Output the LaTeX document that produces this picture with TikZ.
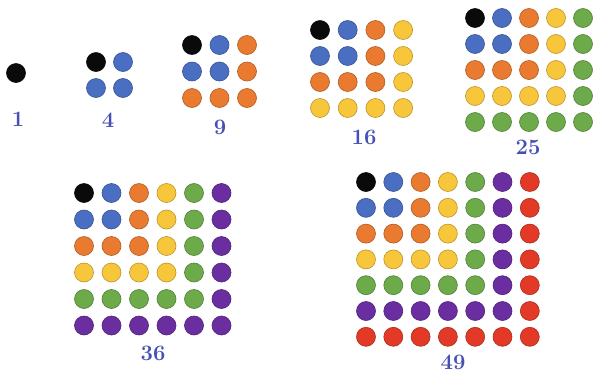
\documentclass[tikz,border=0pt]{standalone}
\begin{document}
\definecolor{c0}{HTML}{0A0A0A}
\definecolor{c1}{HTML}{4A6EC2}
\definecolor{c2}{HTML}{EA7A30}
\definecolor{c3}{HTML}{F8C63A}
\definecolor{c4}{HTML}{6CAA4A}
\definecolor{c5}{HTML}{6A2EA0}
\definecolor{c6}{HTML}{E23A26}
\definecolor{labelblue}{HTML}{4650B4}
\begin{tikzpicture}[x=1pt,y=-1pt,
  dot/.style={circle,inner sep=0pt,minimum size=19pt,line width=0.6pt},
  numlabel/.style={text=labelblue,font=\fontsize{22}{24}\selectfont\bfseries,inner sep=0pt}]
\useasboundingbox (0,0) rectangle (595,370);
\fill[white] (0,0) rectangle (595,370);
% grid: name/x0/y0/sx/sy/n
\foreach \g/\xo/\yo/\sx/\sy/\n in {a/16/73/27/27/1, b/96/62/27/26/2, c/192/45/27.5/26.5/3,
   d/320/30/27.7/26/4, e/475/18/27/26/5, f/84/193/27.5/26.5/6, h/366/182/27.3/25.8/7}{
  \pgfmathtruncatemacro\m{\n-1}
  \foreach \i in {0,...,\m}{
    \foreach \j in {0,...,\m}{
      \pgfmathtruncatemacro\k{max(\i,\j)}
      \node[dot,fill=c\k,draw=c\k!75!black] (\g-\i-\j) at (\xo+\j*\sx,\yo+\i*\sy) {};
    }
  }
}
\node[numlabel] (l1) at (18,119) {1};
\node[numlabel] (l4) at (108,120) {4};
\node[numlabel] (l9) at (220,127) {9};
\node[numlabel] (l16) at (364,137) {16};
\node[numlabel] (l25) at (528,147) {25};
\node[numlabel] (l36) at (153,353) {36};
\node[numlabel] (l49) at (453,362) {49};
\end{tikzpicture}
\end{document}
